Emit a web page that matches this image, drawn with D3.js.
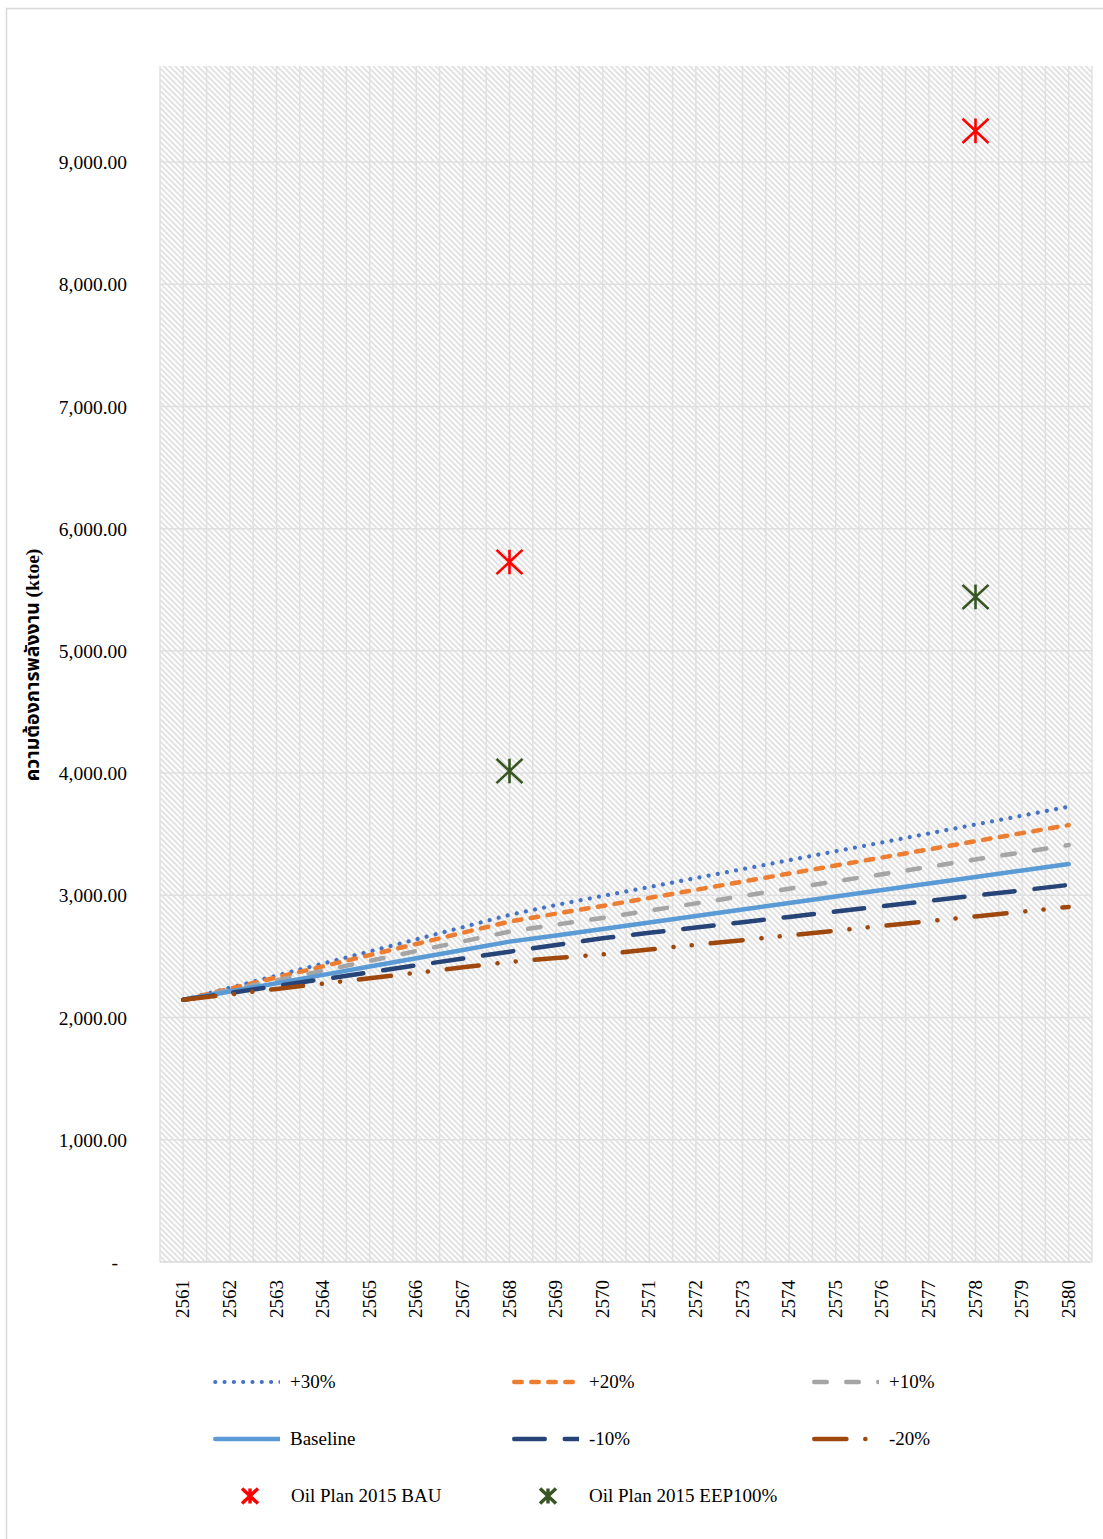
<!DOCTYPE html>
<html>
<head>
<meta charset="utf-8">
<script src="https://cdn.jsdelivr.net/npm/d3@7"></script>
<style>
  html, body { margin: 0; padding: 0; background: #ffffff; }
  svg { display: block; }
  text { font-family: "Liberation Serif", "Times New Roman", serif; fill: #000; }
</style>
</head>
<body>
<svg id="chart" width="1103" height="1539"></svg>
<script>
// Years (Buddhist era) on the category axis
const years = [2561, 2562, 2563, 2564, 2565, 2566, 2567, 2568, 2569, 2570,
               2571, 2572, 2573, 2574, 2575, 2576, 2577, 2578, 2579, 2580];

// Energy demand projections (ktoe) per scenario
const plus30 = [2145, 2244, 2343, 2442, 2541, 2640, 2740, 2840, 2921, 2995,
                3068, 3141, 3214, 3287, 3360, 3433, 3506, 3579, 3652, 3725];
const plus20 = [2145, 2236, 2328, 2419, 2511, 2602, 2694, 2785, 2850, 2913,
                2979, 3045, 3112, 3178, 3244, 3310, 3376, 3443, 3509, 3575];
const plus10 = [2145, 2225, 2304, 2384, 2464, 2544, 2623, 2703, 2760, 2815,
                2875, 2934, 2994, 3054, 3114, 3173, 3233, 3293, 3352, 3412];
const baseline = [2145, 2213, 2281, 2349, 2417, 2485, 2553, 2621, 2672, 2724,
                  2777, 2830, 2884, 2937, 2990, 3043, 3096, 3150, 3203, 3256];
const minus10 = [2145, 2201, 2258, 2314, 2370, 2427, 2483, 2539, 2594, 2649,
                 2693, 2736, 2780, 2823, 2867, 2911, 2954, 2998, 3041, 3085];
const minus20 = [2145, 2189, 2234, 2278, 2322, 2366, 2411, 2455, 2487, 2517,
                 2556, 2595, 2633, 2672, 2711, 2750, 2789, 2827, 2866, 2905];

// Oil Plan 2015 reference points
const bauYears = [2568, 2578];
const bauValues = [5727, 9254];
const eepYears = [2568, 2578];
const eepValues = [4017, 5441];

// Axis ticks
const yTicks = [0, 1000, 2000, 3000, 4000, 5000, 6000, 7000, 8000, 9000];
const yMax = 9785;

const seriesNames = ["+30%", "+20%", "+10%", "Baseline", "-10%", "-20%"];
const seriesData = [plus30, plus20, plus10, baseline, minus10, minus20];
const seriesColors = ["#4472C4", "#ED7D31", "#A5A5A5", "#5B9BD5", "#264478", "#9E480E"];
const seriesDash = ["0.01 9.3", "7.5 9.5", "12.5 19.5", null, "30.5 20", "32.2 18.85 0.1 18.2 0.1 18.95"];
const seriesWidth = [4.2, 4.5, 4.5, 4.5, 4.5, 4.5];

const markerNames = ["Oil Plan 2015 BAU", "Oil Plan 2015 EEP100%"];
const markerColors = ["#FF0000", "#375623"];

const svg = d3.select("#chart");

// chart frame
svg.append("rect")
  .attr("x", 6.5).attr("y", 8.5)
  .attr("width", 1110).attr("height", 1540)
  .attr("fill", "#fff").attr("stroke", "#d9d9d9").attr("stroke-width", 1.5);

const plot = { left: 160, right: 1092, top: 66, bottom: 1262 };

const x = d3.scaleBand()
  .domain(years)
  .range([plot.left, plot.right])
  .padding(0);
const cx = d => x(d) + x.bandwidth() / 2;

const y = d3.scaleLinear()
  .domain([0, yMax])
  .range([plot.bottom, plot.top]);

// diagonal hatch background
const defs = svg.append("defs");
const pat = defs.append("pattern")
  .attr("id", "hatch")
  .attr("patternUnits", "userSpaceOnUse")
  .attr("width", 4).attr("height", 4)
  .attr("patternTransform", "rotate(-45)");
pat.append("rect").attr("width", 4).attr("height", 4).attr("fill", "#ffffff");
pat.append("line")
  .attr("x1", 1).attr("y1", 0).attr("x2", 1).attr("y2", 4)
  .attr("stroke", "#d6d6d6").attr("stroke-width", 1.4);

svg.append("rect")
  .attr("x", plot.left).attr("y", plot.top)
  .attr("width", plot.right - plot.left)
  .attr("height", plot.bottom - plot.top)
  .attr("fill", "url(#hatch)");

// vertical gridlines at category edges and centres
const vLines = [];
years.forEach(yr => { vLines.push(x(yr)); vLines.push(cx(yr)); });
vLines.push(plot.right);
svg.append("g").selectAll("line").data(vLines).join("line")
  .attr("x1", d => d).attr("x2", d => d)
  .attr("y1", plot.top).attr("y2", plot.bottom)
  .attr("stroke", "#e0e0e0").attr("stroke-width", 1.5);

// horizontal gridlines
svg.append("g").selectAll("line").data(yTicks.filter(t => t > 0)).join("line")
  .attr("x1", plot.left).attr("x2", plot.right)
  .attr("y1", d => y(d)).attr("y2", d => y(d))
  .attr("stroke", "#e0e0e0").attr("stroke-width", 1.5);

// category axis line
svg.append("line")
  .attr("x1", plot.left).attr("x2", plot.right)
  .attr("y1", plot.bottom).attr("y2", plot.bottom)
  .attr("stroke", "#d9d9d9").attr("stroke-width", 1.5);

// y axis labels
const fmt = d3.format(",.2f");
const yAxis = d3.axisLeft(y).tickValues(yTicks).tickSize(0).tickPadding(0)
  .tickFormat(d => d === 0 ? "-" : fmt(d));
const yG = svg.append("g").attr("transform", `translate(${plot.left - 33},0)`).call(yAxis);
yG.select(".domain").remove();
yG.selectAll("text")
  .attr("font-size", 19.5)
  .attr("font-family", '"Liberation Serif", serif')
  .attr("fill", "#000")
  .attr("dy", "0.34em")
  .attr("dx", d => d === 0 ? -9 : 0);

// x axis labels (rotated)
const xAxis = d3.axisBottom(x).tickSize(0).tickPadding(0);
const xG = svg.append("g").attr("transform", `translate(0,${plot.bottom})`).call(xAxis);
xG.select(".domain").remove();
xG.selectAll("text")
  .attr("font-size", 19)
  .attr("font-family", '"Liberation Serif", serif')
  .attr("fill", "#000")
  .attr("text-anchor", "end")
  .attr("transform", "translate(6,18) rotate(-90)")
  .attr("x", 0).attr("y", 0).attr("dy", 0);

// y axis title
svg.append("text")
  .attr("transform", "translate(39,665) rotate(-90)")
  .attr("text-anchor", "middle")
  .attr("font-size", 19.5)
  .attr("font-weight", "bold")
  .style("font-family", '"Liberation Serif", "Noto Sans Thai", "Noto Sans", serif')
  .text("ความต้องการพลังงาน  (ktoe)");

// scenario lines
const line = d3.line()
  .x((d, i) => cx(years[i]))
  .y(d => y(d));

const linesG = svg.append("g");
seriesData.forEach((vals, k) => {
  linesG.append("path")
    .datum(vals)
    .attr("d", line)
    .attr("fill", "none")
    .attr("stroke", seriesColors[k])
    .attr("stroke-width", seriesWidth[k])
    .attr("stroke-linecap", "round")
    .attr("stroke-linejoin", "round")
    .attr("stroke-dasharray", seriesDash[k]);
});

// asterisk marker
function star(g, px, py, r, color, sw) {
  const p = d3.path();
  p.moveTo(px - r, py - r * 0.93); p.lineTo(px + r, py + r * 0.93);
  p.moveTo(px - r, py + r * 0.93); p.lineTo(px + r, py - r * 0.93);
  p.moveTo(px, py - r * 0.95); p.lineTo(px, py + r * 0.95);
  g.append("path").attr("d", p.toString())
    .attr("fill", "none").attr("stroke", color)
    .attr("stroke-width", sw);
}

const mG = svg.append("g");
bauYears.forEach((yr, i) => star(mG, cx(yr), y(bauValues[i]), 13, markerColors[0], 2.6));
eepYears.forEach((yr, i) => star(mG, cx(yr), y(eepValues[i]), 13, markerColors[1], 2.6));

// legend
const legend = svg.append("g");
const colX = [213, 512, 812];
const rowY = [1382, 1439, 1496];
const textOff = 77;
const sampleLen = 70;

defs.append("clipPath").attr("id", "legclip")
  .selectAll("rect").data(d3.range(6)).join("rect")
  .attr("x", k => colX[k % 3] - 3)
  .attr("y", k => rowY[Math.floor(k / 3)] - 6)
  .attr("width", 70)
  .attr("height", 12);

seriesNames.forEach((name, k) => {
  const lx = colX[k % 3], ly = rowY[Math.floor(k / 3)];
  legend.append("path")
    .attr("d", `M${lx + 2.25},${ly}L${lx + sampleLen + 6},${ly}`)
    .attr("clip-path", "url(#legclip)")
    .attr("fill", "none")
    .attr("stroke", seriesColors[k])
    .attr("stroke-width", seriesWidth[k])
    .attr("stroke-linecap", "round")
    .attr("stroke-dasharray", seriesDash[k]);
  legend.append("text")
    .attr("x", lx + textOff).attr("y", ly)
    .attr("dy", "0.34em")
    .attr("font-size", 19)
    .text(name);
});

const markerLegendX = [250, 548];
markerNames.forEach((name, k) => {
  const ly = rowY[2];
  star(legend, markerLegendX[k], ly, 8, markerColors[k], 3.4);
  legend.append("text")
    .attr("x", colX[k] + textOff + (k === 1 ? 0 : 1))
    .attr("y", ly)
    .attr("dy", "0.34em")
    .attr("font-size", 19)
    .text(name);
});
</script>
</body>
</html>
